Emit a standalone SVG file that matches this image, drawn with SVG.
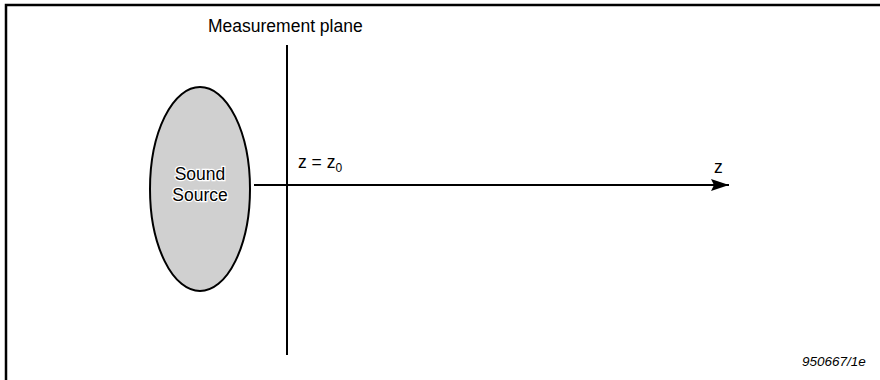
<svg xmlns="http://www.w3.org/2000/svg" width="880" height="380" viewBox="0 0 880 380">
<style>
text{font-family:"Liberation Sans",Arial,sans-serif;fill:#000}
.lbl{font-size:17.5px}
.line{stroke:#000;stroke-width:2;fill:none}
</style>
<defs>
<marker id="arr" markerWidth="20" markerHeight="14" refX="18" refY="7" orient="auto" markerUnits="userSpaceOnUse" overflow="visible">
<path d="M0,1 L18,7 L0,13 L3,7 Z" fill="#000"/>
</marker>
</defs>
<rect width="880" height="380" fill="#fff"/>
<g id="frame">
<path d="M6,380 V5 H880" stroke="#000" stroke-width="2.5" fill="none"/>
</g>
<g id="source">
<ellipse cx="200" cy="189" rx="50" ry="102" fill="#d0d0d0" stroke="#000" stroke-width="2"/>
<text class="lbl" x="200" y="180" text-anchor="middle" stroke="#fff" stroke-width="2.5" paint-order="stroke">Sound</text>
<text class="lbl" x="200" y="201" text-anchor="middle" stroke="#fff" stroke-width="2.5" paint-order="stroke">Source</text>
</g>
<g id="plane">
<line class="line" x1="287" y1="45" x2="287" y2="355"/>
<text class="lbl" x="208" y="32">Measurement plane</text>
<text class="lbl" x="298" y="168">z = z<tspan font-size="12" dy="4">0</tspan></text>
</g>
<g id="connectors">
<line class="line" x1="254" y1="185" x2="729" y2="185" marker-end="url(#arr)"/>
</g>
<g id="axis-label">
<text class="lbl" x="714" y="173">z</text>
</g>
<text x="802" y="366" font-size="13.5" font-style="italic">950667/1e</text>
</svg>
